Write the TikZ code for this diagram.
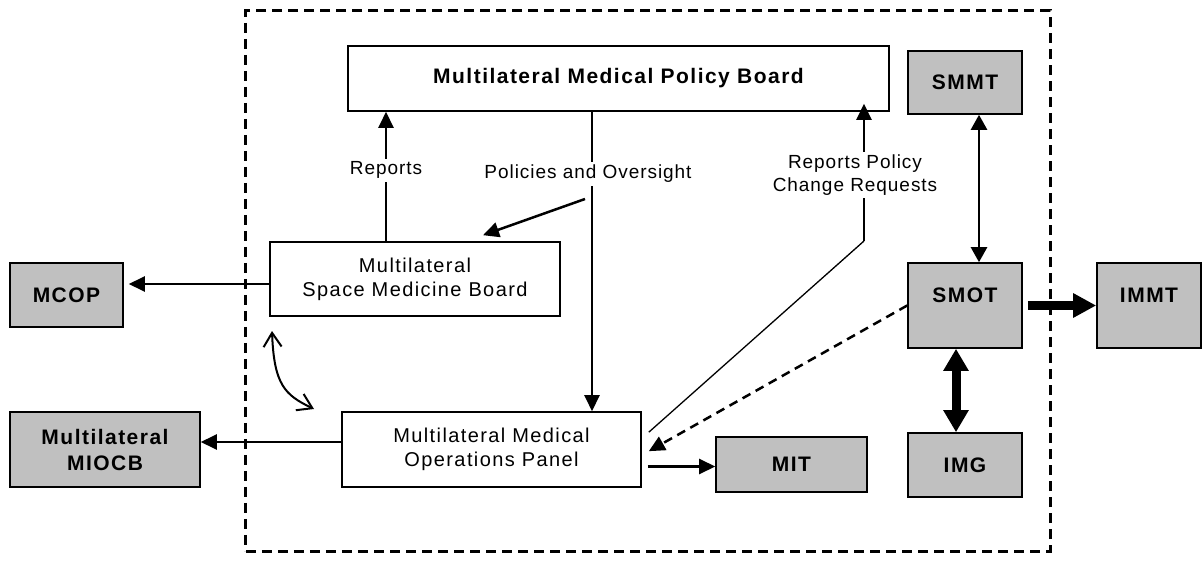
\documentclass[tikz,border=0pt]{standalone}
\usepackage{fontspec}
\setmainfont{Liberation Sans}
\newfontfamily\regfont[LetterSpace=7]{Liberation Sans}
\newfontfamily\lblfont[LetterSpace=5]{Liberation Sans}
\newfontfamily\bldfont[LetterSpace=7]{Liberation Sans Bold}
\usetikzlibrary{arrows.meta,calc}
\definecolor{boxgray}{RGB}{192,192,192}

\begin{document}
\begin{tikzpicture}[x=1bp,y=-1bp,
  plainbox/.style={draw, line width=1.6bp, fill=white, inner sep=0pt, align=center,
    font=\regfont\fontsize{20bp}{24bp}\selectfont},
  titlebox/.style={draw, line width=1.6bp, fill=white, inner sep=0pt, align=center,
    font=\bldfont\fontsize{21bp}{26bp}\selectfont},
  greybox/.style={draw, line width=1.6bp, fill=boxgray, inner sep=0pt, align=center,
    font=\bldfont\fontsize{21bp}{26bp}\selectfont},
  lbl/.style={fill=white, inner sep=3bp, align=center,
    font=\lblfont\fontsize{19bp}{23bp}\selectfont},
  flow/.style={line width=2.5bp, -{Triangle[length=16bp,width=15bp]}},
  twoway/.style={line width=2.5bp, {Triangle[length=15bp,width=16bp]}-{Triangle[length=15bp,width=16bp]}},
  heavy/.style={line width=9bp},
  frame/.style={draw, line width=3bp, dash pattern=on 10bp off 6bp, inner sep=0pt}
]
\useasboundingbox (0,0) rectangle (1204,564);

% organisational boundary
\node[frame, minimum width=804bp, minimum height=540bp] (region) at (648,281) {};

% boards and panels
\node[titlebox, minimum width=541bp, minimum height=65bp] (mmpb) at (618.5,78.5)
  {Multilateral Medical Policy Board};
\node[plainbox, minimum width=290bp, minimum height=74bp] (msmb) at (415,279)
  {Multilateral\\Space Medicine Board};
\node[plainbox, minimum width=299bp, minimum height=75bp] (mmop) at (491.5,449.5)
  {Multilateral Medical\\Operations Panel};

% partner groups
\node[greybox, minimum width=114bp, minimum height=63bp] (smmt) at (965,82.5) {SMMT};
\node[greybox, minimum width=114bp, minimum height=85bp, text height=15bp, text depth=20bp]
  (smot) at (965,305.5) {SMOT};
\node[greybox, minimum width=104bp, minimum height=85bp, text height=15bp, text depth=20bp]
  (immt) at (1149,305.5) {IMMT};
\node[greybox, minimum width=114bp, minimum height=64bp] (img) at (965,465) {IMG};
\node[greybox, minimum width=113bp, minimum height=64bp] (mcop) at (66.5,295) {MCOP};
\node[greybox, minimum width=190bp, minimum height=75bp] (miocb) at (105,449.5)
  {Multilateral\\MIOCB};
\node[greybox, minimum width=151bp, minimum height=55bp] (mit) at (791.5,464.5) {MIT};

% helper points
\coordinate (repx) at (386,0);
\coordinate (polx) at (592,0);
\coordinate (pa) at (585,199);
\coordinate (rpk) at (864,241);
\coordinate (curveA) at (272,331);
\coordinate (curveB) at (314,409);

% reporting lines
\draw[flow] (msmb.north -| repx) -- (mmpb.south -| repx)
  node[lbl, pos=0.55] {Reports};
\draw[flow] (mmpb.south -| polx) -- (mmop.north -| polx);
\node[lbl] (pao) at (588,174) {Policies and Oversight};
\draw[flow] (pa) -- ($(msmb.north)+(68,-6)$);

\draw[line width=1.3bp] ([shift={(7,21)}]mmop.north east) -- (rpk);
\draw[flow] (rpk) -- ([yshift=8bp]mmpb.south -| rpk);
\node[lbl] (rpcr) at (855,175) {Reports Policy\\Change Requests};

% links leaving the boundary
\draw[flow, shorten >=5bp] ([yshift=-5bp]msmb.west) -- ([yshift=-5bp]msmb.west -| mcop.east);
\draw[flow] ([yshift=7.5bp]mmop.west) -- ([yshift=7.5bp]mmop.west -| miocb.east);
\draw[flow, shorten <=6bp] ([yshift=-17bp]mmop.east) -- ([yshift=-17bp]mmop.east -| mit.west);

% board <-> panel coordination
\draw[line width=2bp, {Straight Barb[length=14bp,width=18bp]}-{Straight Barb[length=14bp,width=18bp]}]
  (curveA) .. controls (274,385) and (285,395) .. (curveB);

% SMOT links
\draw[twoway] ([xshift=14bp]smmt.south) -- ([xshift=14bp]smot.north);
\draw[flow, dash pattern=on 9bp off 6bp] (smot.west) -- ([shift={(7,40)}]mmop.north east);
\draw[heavy, {Triangle[length=22bp,width=24bp]}-{Triangle[length=22bp,width=24bp]}]
  ([xshift=-9bp]smot.south) -- ([xshift=-9bp]img.north);
\draw[heavy, -{Triangle[length=23bp,width=23bp]}, shorten <=5bp] (smot.east) -- (immt.west);
\end{tikzpicture}
\end{document}
